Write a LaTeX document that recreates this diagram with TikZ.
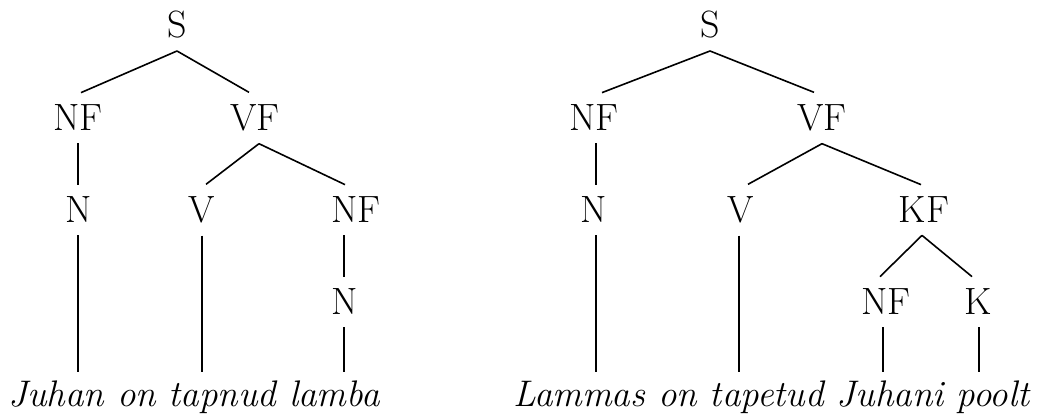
\documentclass[tikz,border=0pt]{standalone}
\begin{document}
\begin{tikzpicture}[x=0.5pt,y=-0.5pt,
  cat/.style={inner sep=6pt,font=\fontsize{19}{23}\selectfont},
  words/.style={inner sep=0pt,anchor=base west,font=\fontsize{18.5}{22}\selectfont\itshape},
  edge/.style={line width=0.8pt}]
\useasboundingbox (0,0) rectangle (1051,414);
% left tree
\node[cat] (S1) at (177,25) {S};
\node[cat] (NF1) at (78,118) {NF};
\node[cat] (VF1) at (255,118) {VF};
\node[cat] (N1) at (79,210) {N};
\node[cat] (V1) at (202,210) {V};
\node[cat] (NF2) at (356,210) {NF};
\node[cat] (N2) at (345,302) {N};
\node[words] (W1) at (8,406) {Juhan on tapnud lamba};
\coordinate (a1) at (78,372);
\coordinate (a2) at (202,372);
\coordinate (a3) at (344,372);
\draw[edge] (S1.south) -- ([xshift=1.5pt]NF1.north);
\draw[edge] (S1.south) -- ([xshift=-3pt]VF1.north);
\draw[edge] (NF1.south -| a1) -- (N1.north -| a1);
\draw[edge] ([xshift=2pt]VF1.south) -- ([xshift=2pt]V1.north);
\draw[edge] ([xshift=2pt]VF1.south) -- ([xshift=-5.5pt]NF2.north);
\draw[edge] (N1.south -| a1) -- (a1);
\draw[edge] (V1.south -| a2) -- (a2);
\draw[edge] (NF2.south -| a3) -- (N2.north -| a3);
\draw[edge] (N2.south -| a3) -- (a3);
% right tree
\node[cat] (S2) at (710,25) {S};
\node[cat] (NF3) at (594,118) {NF};
\node[cat] (VF2) at (822,118) {VF};
\node[cat] (N3) at (594,210) {N};
\node[cat] (V2) at (741,210) {V};
\node[cat] (KF1) at (924,210) {KF};
\node[cat] (NF4) at (886,302) {NF};
\node[cat] (K1) at (978,302) {K};
\node[words] (W2) at (513,406) {Lammas on tapetud Juhani poolt};
\coordinate (b1) at (596,372);
\coordinate (b2) at (739,372);
\coordinate (b3) at (883,372);
\coordinate (b4) at (979,372);
\draw[edge] (S2.south) -- ([xshift=4pt]NF3.north);
\draw[edge] (S2.south) -- ([xshift=-4pt]VF2.north);
\draw[edge] (NF3.south -| b1) -- (N3.north -| b1);
\draw[edge] (VF2.south) -- ([xshift=3.5pt]V2.north);
\draw[edge] (VF2.south) -- ([xshift=-1.5pt]KF1.north);
\draw[edge] ([xshift=-1pt]KF1.south) -- ([xshift=-3pt]NF4.north);
\draw[edge] ([xshift=-1pt]KF1.south) -- ([xshift=-3pt]K1.north);
\draw[edge] (N3.south -| b1) -- (b1);
\draw[edge] (V2.south -| b2) -- (b2);
\draw[edge] (NF4.south -| b3) -- (b3);
\draw[edge] (K1.south -| b4) -- (b4);
\end{tikzpicture}
\end{document}
